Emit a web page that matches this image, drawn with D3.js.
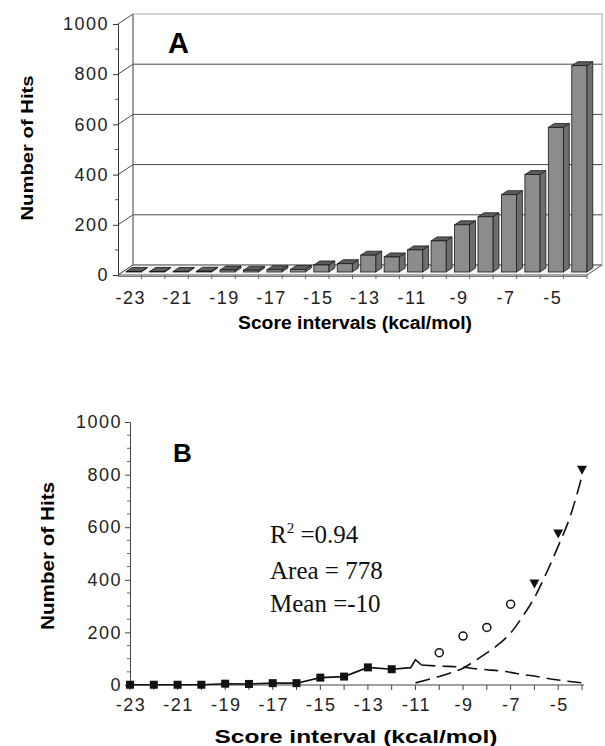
<!DOCTYPE html>
<html><head><meta charset="utf-8">
<script src="https://cdn.jsdelivr.net/npm/d3@7/dist/d3.min.js"></script>
<style>body{margin:0;background:#fff}svg{display:block}</style>
</head><body>
<svg id="c" width="605" height="746"></svg>
<script>
// ---------- data ----------
const categories = [-23,-22,-21,-20,-19,-18,-17,-16,-15,-14,-13,-12,-11,-10,-9,-8,-7,-6,-5,-4];
const hits = [2,2,2,3,8,7,9,10,28,33,67,60,88,124,188,220,308,388,576,822];
const yTicks = [0,200,400,600,800,1000];
const xTickLabels = [-23,-21,-19,-17,-15,-13,-11,-9,-7,-5];

// panel B series
const squareX = [-23,-22,-21,-20,-19,-18,-17,-16,-15,-14,-13,-12];
const squareY = [1,1,1,1,5,4,7,7,28,32,67,60];
const bumpX = [-11.2,-11.0,-10.75];
const bumpY = [66,96,76];
const circleX = [-10,-9,-8,-7];
const circleY = [123,186,219,307];
const triX = [-6,-5,-4];
const triY = [386,576,818];
const gaussX = [-10.75,-10,-9,-8.5,-8,-7.5,-7,-6.5,-6,-5.5,-5,-4.5,-4];
const gaussY = [76,72,68,62,58,54,48,40,34,26,19,13,8];
const expX = [-11,-10.5,-10,-9.5,-9,-8.5,-8,-7.5,-7,-6.5,-6,-5.5,-5,-4.5,-4];
const expY = [8,20,32,47,64,92,122,155,198,260,332,425,528,640,795];
const annotations = ["=0.94","Area = 778","Mean =-10"];

const svg = d3.select("#c");
const sans = "'Liberation Sans', Arial, Helvetica, sans-serif";
const serif = "'Liberation Serif', 'Times New Roman', serif";
const fmt = d3.format("d");

// ================= Panel A (3D bars) =================
const A = svg.append("g");
const dX = 15, dY = -10;               // depth offset of walls
const xA = d3.scaleBand().domain(categories).range([118, 587]).padding(0);
const yA = d3.scaleLinear().domain([0,1000]).range([275, 24]);
const floorL = 118, floorR = 587, floorY = 275;

// back wall
A.append("rect").attr("x", floorL+dX).attr("y", yA(1000)+dY)
  .attr("width", floorR-floorL).attr("height", yA(0)-yA(1000))
  .attr("fill","#fff").attr("stroke","#a8a8a8").attr("stroke-width",1);
// gridlines on back wall
A.selectAll(".grid").data(yTicks.filter(d=>d>0 && d<1000)).join("line")
  .attr("x1", floorL+dX).attr("x2", floorR+dX)
  .attr("y1", d=>yA(d)+dY).attr("y2", d=>yA(d)+dY)
  .attr("stroke","#4a4a4a").attr("stroke-width",1);
// side wall diagonals
A.selectAll(".diag").data(yTicks).join("line")
  .attr("x1", floorL).attr("x2", floorL+dX)
  .attr("y1", d=>yA(d)).attr("y2", d=>yA(d)+dY)
  .attr("stroke","#4a4a4a").attr("stroke-width",1);
A.append("line").attr("x1",floorL+dX).attr("x2",floorL+dX)
  .attr("y1",yA(1000)+dY).attr("y2",yA(0)+dY).attr("stroke","#666");
// floor
A.append("path").attr("d", `M${floorL},${floorY}L${floorR},${floorY}L${floorR+dX},${floorY+dY}L${floorL+dX},${floorY+dY}Z`)
  .attr("fill","#f4f4f4").attr("stroke","#555").attr("stroke-width",1);
A.append("line").attr("x1",floorL).attr("x2",floorR).attr("y1",floorY+1.5).attr("y2",floorY+1.5)
  .attr("stroke","#777").attr("stroke-width",1);

// bars
const bw = 15, bdx = 6, bdy = -4, shiftX = 4, shiftY = -3;
const bars = A.selectAll(".bar").data(categories.map((c,i)=>({c, v:hits[i]}))).join("g");
bars.each(function(d){
  const g = d3.select(this);
  const x0 = xA(d.c) + (xA.bandwidth()-bw)/2 + shiftX;
  const yb = yA(0) + shiftY;
  const yt = yA(d.v) + shiftY;
  g.append("path").attr("d", `M${x0+bw},${yt}L${x0+bw+bdx},${yt+bdy}L${x0+bw+bdx},${yb+bdy}L${x0+bw},${yb}Z`)
    .attr("fill","#6e6e6e").attr("stroke","#1a1a1a").attr("stroke-width",0.8);
  g.append("path").attr("d", `M${x0},${yt}L${x0+bw},${yt}L${x0+bw+bdx},${yt+bdy}L${x0+bdx},${yt+bdy}Z`)
    .attr("fill","#5c5c5c").attr("stroke","#1a1a1a").attr("stroke-width",0.8);
  g.append("rect").attr("x",x0).attr("y",yt).attr("width",bw).attr("height",Math.max(0,yb-yt))
    .attr("fill","#8c8c8c").attr("stroke","#1a1a1a").attr("stroke-width",0.8);
});

// front y axis
const axA = A.append("g").attr("transform",`translate(${floorL},0)`)
  .call(d3.axisLeft(yA).tickValues(yTicks).tickFormat(fmt).tickSize(5).tickPadding(4));
axA.select(".domain").attr("stroke","#333");
axA.selectAll(".tick line").attr("stroke","#333");
axA.selectAll("text").attr("font-family",sans).attr("font-size",18).attr("letter-spacing",1.5).attr("fill","#222");
A.selectAll(".minorA").data(d3.range(100,1000,200)).join("line")
  .attr("x1",floorL-3).attr("x2",floorL).attr("y1",d=>yA(d)).attr("y2",d=>yA(d)).attr("stroke","#555");
// x ticks below floor (category boundaries)
A.selectAll(".xtA").data(categories).join("line")
  .attr("x1",d=>xA(d)+xA.bandwidth()).attr("x2",d=>xA(d)+xA.bandwidth())
  .attr("y1",floorY).attr("y2",floorY+4).attr("stroke","#666");
A.selectAll(".xlA").data(xTickLabels).join("text")
  .attr("x",d=>xA(d)+xA.bandwidth()/2+1).attr("y",304)
  .attr("text-anchor","middle").attr("font-family",sans).attr("font-size",18).attr("letter-spacing",1.5)
  .attr("fill","#222").text(d=>d);
A.append("text").attr("x",355).attr("y",329).attr("text-anchor","middle")
  .attr("font-family",sans).attr("font-weight","bold").attr("font-size",18)
  .attr("textLength",234).attr("lengthAdjust","spacingAndGlyphs").text("Score intervals (kcal/mol)");
A.append("text").attr("transform","translate(33,148) rotate(-90)").attr("text-anchor","middle")
  .attr("font-family",sans).attr("font-weight","bold").attr("font-size",17)
  .attr("textLength",145).attr("lengthAdjust","spacingAndGlyphs").text("Number of Hits");
A.append("text").attr("x",168).attr("y",53).attr("font-family",sans).attr("font-weight","bold")
  .attr("font-size",29).text("A");

// ================= Panel B =================
const B = svg.append("g");
const xB = d3.scaleLinear().domain([-23,-4]).range([130, 582]);
const yB = d3.scaleLinear().domain([0,1000]).range([685, 422]);

const axBy = B.append("g").attr("transform","translate(130,0)")
  .call(d3.axisLeft(yB).tickValues(yTicks).tickFormat(fmt).tickSize(5).tickPadding(3));
axBy.select(".domain").attr("stroke","#444");
axBy.selectAll(".tick line").attr("stroke","#444");
axBy.selectAll("text").attr("font-family",sans).attr("font-size",18).attr("letter-spacing",1.5).attr("fill","#222");
B.selectAll(".minorB").data(d3.range(50,1000,50).filter(d=>d%200!==0)).join("line")
  .attr("x1",127).attr("x2",130).attr("y1",d=>yB(d)).attr("y2",d=>yB(d)).attr("stroke","#666");

B.append("line").attr("x1",130).attr("x2",584).attr("y1",685).attr("y2",685).attr("stroke","#444").attr("stroke-width",1.2);
B.selectAll(".xtB").data(categories).join("line")
  .attr("x1",d=>xB(d)).attr("x2",d=>xB(d)).attr("y1",685).attr("y2",690).attr("stroke","#444");
B.selectAll(".xlB").data(xTickLabels).join("text")
  .attr("x",d=>xB(d)+1).attr("y",711).attr("text-anchor","middle")
  .attr("font-family",sans).attr("font-size",18).attr("letter-spacing",1.5).attr("fill","#222").text(d=>d);
B.append("text").attr("x",356).attr("y",743).attr("text-anchor","middle")
  .attr("font-family",sans).attr("font-weight","bold").attr("font-size",19)
  .attr("textLength",283).attr("lengthAdjust","spacingAndGlyphs").text("Score interval (kcal/mol)");
B.append("text").attr("transform","translate(54,556) rotate(-90)").attr("text-anchor","middle")
  .attr("font-family",sans).attr("font-weight","bold").attr("font-size",18)
  .attr("textLength",148).attr("lengthAdjust","spacingAndGlyphs").text("Number of Hits");
B.append("text").attr("x",173).attr("y",462).attr("font-family",sans).attr("font-weight","bold")
  .attr("font-size",26).text("B");

// curves
const lineGen = d3.line().x(d=>xB(d[0])).y(d=>yB(d[1]));
const solidPts = squareX.map((x,i)=>[x,squareY[i]]).concat(bumpX.map((x,i)=>[x,bumpY[i]]));
B.append("path").attr("d", lineGen(solidPts)).attr("fill","none").attr("stroke","#111").attr("stroke-width",1.6);
const smooth = d3.line().x(d=>xB(d[0])).y(d=>yB(d[1])).curve(d3.curveMonotoneX);
B.append("path").attr("d", smooth(gaussX.map((x,i)=>[x,gaussY[i]])))
  .attr("fill","none").attr("stroke","#111").attr("stroke-width",1.6).attr("stroke-dasharray","14,7");
B.append("path").attr("d", smooth(expX.map((x,i)=>[x,expY[i]])))
  .attr("fill","none").attr("stroke","#111").attr("stroke-width",1.6).attr("stroke-dasharray","15,7");

// markers
B.selectAll(".sq").data(squareX.map((x,i)=>[x,squareY[i]])).join("rect")
  .attr("x",d=>xB(d[0])-4).attr("y",d=>yB(d[1])-4).attr("width",8).attr("height",8).attr("fill","#111");
B.selectAll(".ci").data(circleX.map((x,i)=>[x,circleY[i]])).join("circle")
  .attr("cx",d=>xB(d[0])).attr("cy",d=>yB(d[1])).attr("r",4).attr("fill","#fff").attr("stroke","#111").attr("stroke-width",1.5);
B.selectAll(".tr").data(triX.map((x,i)=>[x,triY[i]])).join("path")
  .attr("d",d=>{const cx=xB(d[0]), cy=yB(d[1]); return `M${cx-5},${cy-4}L${cx+5},${cy-4}L${cx},${cy+5}Z`;})
  .attr("fill","#111");

// annotation
const ann = B.append("g").attr("font-family",serif).attr("font-size",25).attr("fill","#111");
const t1 = ann.append("text").attr("x",270).attr("y",543);
t1.append("tspan").text("R");
t1.append("tspan").attr("font-size",15).attr("dy",-10).text("2");
t1.append("tspan").attr("dy",10).text(" " + annotations[0]);
ann.append("text").attr("x",270).attr("y",579).text(annotations[1]);
ann.append("text").attr("x",270).attr("y",612).text(annotations[2]);
</script>
</body></html>
